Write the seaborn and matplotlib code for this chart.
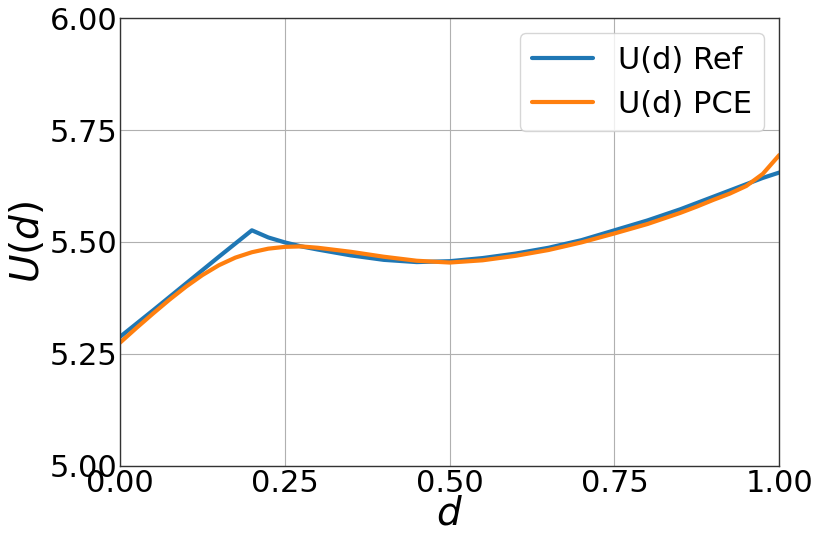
import numpy as np
import pandas as pd
import seaborn as sns
import matplotlib
matplotlib.use("Agg")
import matplotlib.pyplot as plt

# valores de la curva de referencia
d_ref = [0.0, 0.05, 0.1, 0.15, 0.2, 0.225, 0.25, 0.275, 0.3, 0.35, 0.4, 0.45,
         0.5, 0.55, 0.6, 0.65, 0.7, 0.75, 0.8, 0.85, 0.9, 0.95, 0.975, 1.0]
u_ref = [5.288, 5.347, 5.407, 5.467, 5.526, 5.510, 5.499, 5.490, 5.483, 5.470,
         5.460, 5.455, 5.457, 5.464, 5.474, 5.487, 5.504, 5.526, 5.548, 5.573,
         5.601, 5.629, 5.643, 5.655]

# valores del modelo PCE
d_pce = [0.0, 0.025, 0.05, 0.075, 0.1, 0.125, 0.15, 0.175, 0.2, 0.225, 0.25,
         0.275, 0.3, 0.35, 0.4, 0.45, 0.5, 0.55, 0.6, 0.65, 0.7, 0.75, 0.8,
         0.85, 0.875, 0.9, 0.925, 0.95, 0.975, 1.0]
u_pce = [5.275, 5.308, 5.340, 5.371, 5.400, 5.426, 5.448, 5.465, 5.477, 5.485,
         5.489, 5.490, 5.487, 5.478, 5.467, 5.458, 5.454, 5.459, 5.469, 5.482,
         5.499, 5.519, 5.540, 5.565, 5.579, 5.594, 5.608, 5.625, 5.652, 5.694]

df_ref = pd.DataFrame({"d": d_ref, "U": u_ref})
df_pce = pd.DataFrame({"d": d_pce, "U": u_pce})

sns.set_style("whitegrid", {"axes.edgecolor": "#333333", "grid.color": "#b0b0b0",
                            "xtick.bottom": False, "ytick.left": False,
                            "text.color": "black", "axes.labelcolor": "black",
                            "xtick.color": "black", "ytick.color": "black"})
plt.rcParams["font.family"] = ["DejaVu Sans"]

fig = plt.figure(figsize=(8.22, 5.48), dpi=100)
ax = fig.add_axes([0.146, 0.150, 0.802, 0.817])

sns.lineplot(data=df_ref, x="d", y="U", color="#1f77b4", linewidth=3, label="U(d) Ref", ax=ax)
sns.lineplot(data=df_pce, x="d", y="U", color="#ff7f0e", linewidth=3, label="U(d) PCE", ax=ax)

ax.set_xlim(0, 1)
ax.set_ylim(5, 6)
ax.set_xticks([0.0, 0.25, 0.5, 0.75, 1.0])
ax.set_yticks([5.0, 5.25, 5.5, 5.75, 6.0])
ax.tick_params(labelsize=22, pad=2, length=0)
ax.set_xlabel(r"$d$", fontsize=28, labelpad=-2)
ax.set_ylabel(r"$U(d)$", fontsize=28, labelpad=2)
for s in ax.spines.values():
    s.set_linewidth(1.0)

leg = ax.legend(loc="upper right", fontsize=22, framealpha=0.8)
leg.get_frame().set_edgecolor("0.8")

fig.savefig("out.png", dpi=100)
